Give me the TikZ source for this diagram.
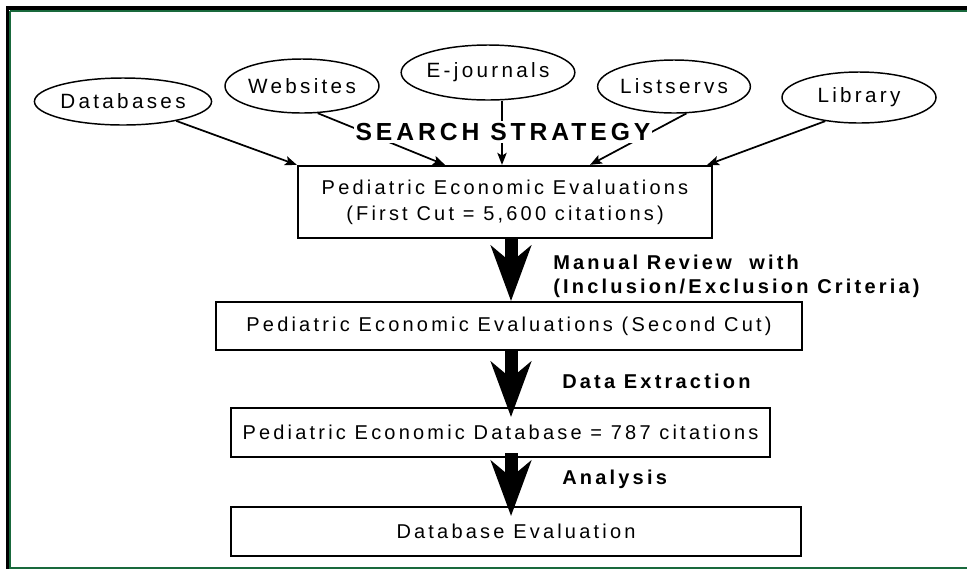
\documentclass[tikz,border=0pt]{standalone}
\usepackage{fontspec}
\setmainfont[LetterSpace=16]{Liberation Sans}
\usetikzlibrary{shapes.geometric,arrows.meta}
\definecolor{framegreen}{RGB}{25,105,60}

\begin{document}
\begin{tikzpicture}[x=0.75pt,y=-0.75pt,
  source/.style={ellipse, draw, line width=1.1pt, inner sep=0pt, font=\fontsize{15.5pt}{18pt}\selectfont},
  stage/.style={rectangle, draw, line width=1.7pt, inner sep=0pt, align=center, font=\fontsize{15pt}{19.5pt}\selectfont},
  feed/.style={-{Stealth[length=9pt,width=7pt,inset=2pt]}, line width=1.3pt},
  flow/.style={-{Stealth[length=42pt,width=31pt,inset=13pt,line width=0pt]}, line width=9.75pt},
  tag/.style={anchor=west, align=left, inner sep=0pt, font=\bfseries\fontsize{15pt}{18pt}\selectfont}]
  \useasboundingbox (0,0) rectangle (967,569);
  % frame
  \draw[line width=3pt] (6,8) -- (967,8);
  \draw[line width=2.6pt] (7.5,6) -- (7.5,569);
  \draw[framegreen, line width=0.9pt] (10,11) -- (967,11);
  \draw[framegreen, line width=0.9pt] (10,11) -- (10,567);
  \draw[framegreen, line width=1.5pt] (9,568) -- (967,568);
  % sources
  \node[source, minimum width=115.5pt, minimum height=35.25pt] (db) at (123,101.5) {Databases};
  \node[source, minimum width=115.5pt, minimum height=40.5pt] (web) at (302,86) {Websites};
  \node[source, minimum width=112.5pt, minimum height=41.25pt] (ej) at (488,72.5) {E-journals};
  \node[source, minimum width=111pt, minimum height=39.75pt] (ls) at (674,86.5) {Listservs};
  \node[source, minimum width=115.5pt, minimum height=38.25pt] (lib) at (859,97.5) {Library};
  % stages
  \node[stage, minimum width=310.5pt, minimum height=54pt] (box1) at (505,202) {Pediatric Economic Evaluations\\(First Cut = 5,600 citations)};
  \node[stage, minimum width=439.5pt, minimum height=36pt] (box2) at (509,326) {Pediatric Economic Evaluations (Second Cut)};
  \node[stage, minimum width=404.25pt, minimum height=36.75pt] (box3) at (500.5,432.5) {Pediatric Economic Database = 787 citations};
  \node[stage, minimum width=427.5pt, minimum height=36.75pt] (box4) at (516,531.5) {Database Evaluation};
  %
  \draw[feed] (db) -- (box1.north west);
  \draw[feed] (web.300) -- ([xshift=-45pt]box1.north);
  \draw[feed] ([xshift=10.5pt]ej.south) -- ([xshift=10.5pt]ej.south |- box1.north);
  \draw[feed] (ls.295) -- ([xshift=63.75pt]box1.north);
  \draw[feed] (lib.215) -- ([xshift=-4.5pt]box1.north east);
  \node[fill=white, inner sep=1.5pt, font=\bfseries\fontsize{18.5pt}{20pt}\selectfont] (strategy) at (503,132) {SEARCH STRATEGY};
  %
  \draw[flow] ([xshift=4.5pt]box1.south) -- ([xshift=4.5pt]box1.south |- box2.north);
  \draw[flow, shorten >=-7.5pt] ([xshift=1.5pt]box2.south) -- ([xshift=1.5pt]box2.south |- box3.north);
  \draw[flow, shorten <=-3.75pt, shorten >=-7.5pt] ([xshift=7.9pt]box3.south) -- ([xshift=7.9pt]box3.south |- box4.north);
  \node[tag] (review) at (553,276) {Manual Review~ with\\(Inclusion/Exclusion Criteria)};
  \node[tag] (extract) at (562,381) {Data Extraction};
  \node[tag] (analysis) at (562,479) {Analysis};
\end{tikzpicture}
\end{document}
